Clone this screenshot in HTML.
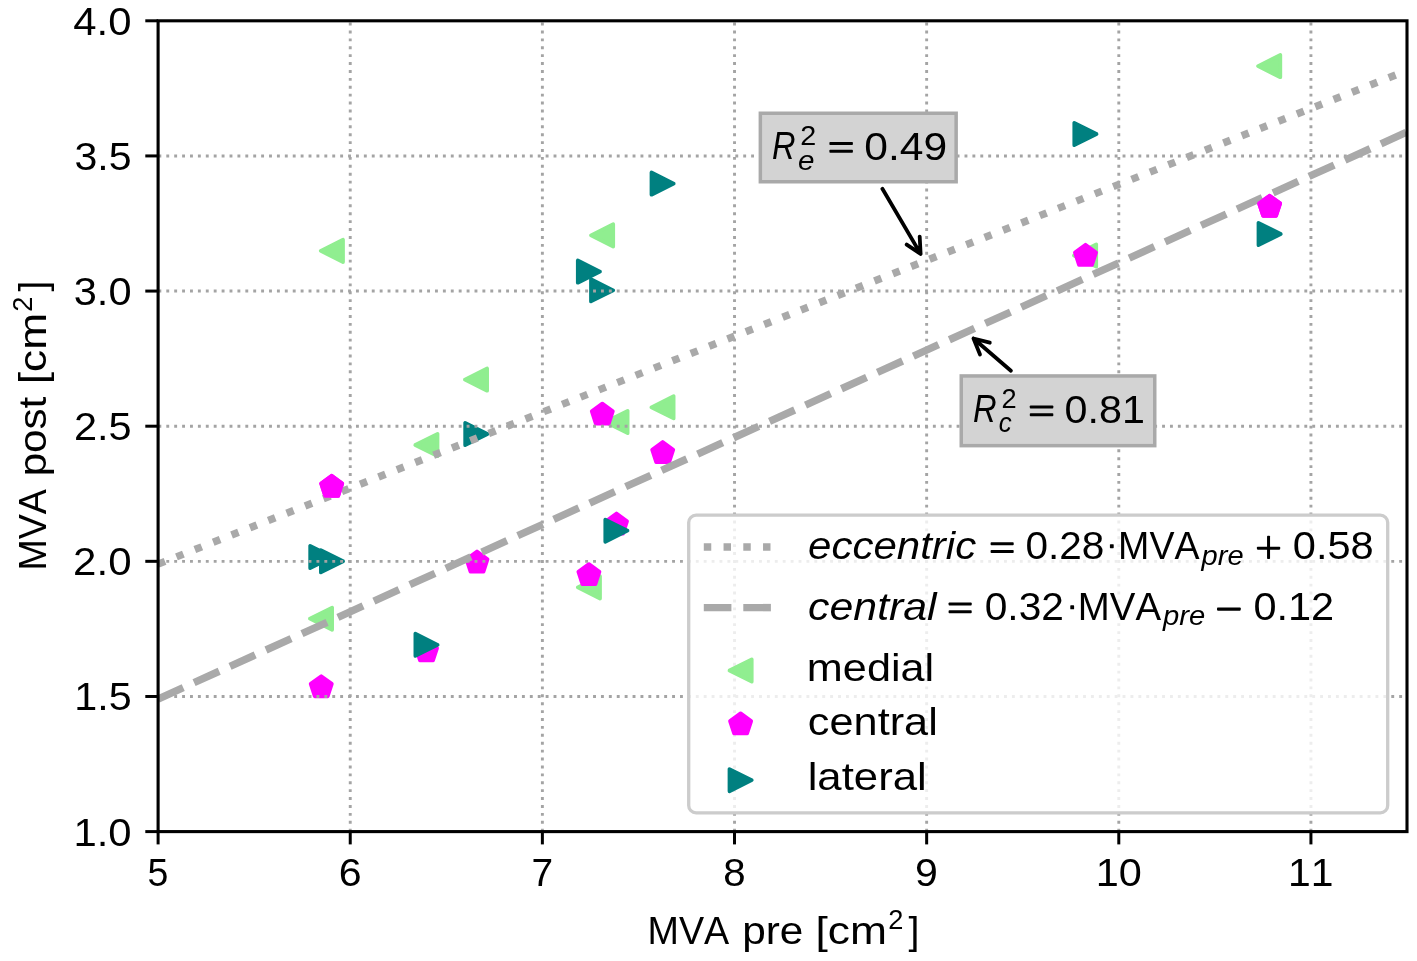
<!DOCTYPE html><html><head><meta charset="utf-8"><style>html,body{margin:0;padding:0;background:#fff;overflow:hidden}body{width:1417px;height:961px;position:relative}</style></head><body>
<svg width="1417" height="961" viewBox="0 0 1417 961" style="position:absolute;left:0;top:0;font-family:'Liberation Sans',sans-serif;font-kerning:none;will-change:transform">
<rect width="1417" height="961" fill="#fff"/>
<clipPath id="ax"><rect x="158.1" y="20.8" width="1248.9" height="810.8"/></clipPath>
<g clip-path="url(#ax)">
<path d="M320.77 250.9L343.03 239.77L343.03 262.03Z" fill="#90ee90" stroke="#90ee90" stroke-width="3.71" stroke-linejoin="round"/>
<path d="M309.87 618.7L332.13 607.57L332.13 629.83Z" fill="#90ee90" stroke="#90ee90" stroke-width="3.71" stroke-linejoin="round"/>
<path d="M415.27 445L437.53 433.87L437.53 456.13Z" fill="#90ee90" stroke="#90ee90" stroke-width="3.71" stroke-linejoin="round"/>
<path d="M464.87 379.6L487.13 368.47L487.13 390.73Z" fill="#90ee90" stroke="#90ee90" stroke-width="3.71" stroke-linejoin="round"/>
<path d="M590.97 235.4L613.23 224.27L613.23 246.53Z" fill="#90ee90" stroke="#90ee90" stroke-width="3.71" stroke-linejoin="round"/>
<path d="M605.37 422L627.63 410.87L627.63 433.13Z" fill="#90ee90" stroke="#90ee90" stroke-width="3.71" stroke-linejoin="round"/>
<path d="M651.37 407.3L673.63 396.17L673.63 418.43Z" fill="#90ee90" stroke="#90ee90" stroke-width="3.71" stroke-linejoin="round"/>
<path d="M577.77 587.4L600.03 576.27L600.03 598.53Z" fill="#90ee90" stroke="#90ee90" stroke-width="3.71" stroke-linejoin="round"/>
<path d="M1073.97 255.5L1096.23 244.37L1096.23 266.63Z" fill="#90ee90" stroke="#90ee90" stroke-width="3.71" stroke-linejoin="round"/>
<path d="M1258.07 66.1L1280.33 54.97L1280.33 77.23Z" fill="#90ee90" stroke="#90ee90" stroke-width="3.71" stroke-linejoin="round"/>
<path d="M331.7 475.77L342.29 483.46L338.24 495.9L325.16 495.9L321.11 483.46Z" fill="#ff00ff" stroke="#ff00ff" stroke-width="3.71" stroke-linejoin="round"/>
<path d="M321.25 676.17L331.84 683.86L327.79 696.3L314.71 696.3L310.66 683.86Z" fill="#ff00ff" stroke="#ff00ff" stroke-width="3.71" stroke-linejoin="round"/>
<path d="M426.5 640.37L437.09 648.06L433.04 660.5L419.96 660.5L415.91 648.06Z" fill="#ff00ff" stroke="#ff00ff" stroke-width="3.71" stroke-linejoin="round"/>
<path d="M477 551.47L487.59 559.16L483.54 571.6L470.46 571.6L466.41 559.16Z" fill="#ff00ff" stroke="#ff00ff" stroke-width="3.71" stroke-linejoin="round"/>
<path d="M602.3 403.57L612.89 411.26L608.84 423.7L595.76 423.7L591.71 411.26Z" fill="#ff00ff" stroke="#ff00ff" stroke-width="3.71" stroke-linejoin="round"/>
<path d="M588.9 564.07L599.49 571.76L595.44 584.2L582.36 584.2L578.31 571.76Z" fill="#ff00ff" stroke="#ff00ff" stroke-width="3.71" stroke-linejoin="round"/>
<path d="M616.5 513.47L627.09 521.16L623.04 533.6L609.96 533.6L605.91 521.16Z" fill="#ff00ff" stroke="#ff00ff" stroke-width="3.71" stroke-linejoin="round"/>
<path d="M662.7 441.97L673.29 449.66L669.24 462.1L656.16 462.1L652.11 449.66Z" fill="#ff00ff" stroke="#ff00ff" stroke-width="3.71" stroke-linejoin="round"/>
<path d="M1085.5 244.77L1096.09 252.46L1092.04 264.9L1078.96 264.9L1074.91 252.46Z" fill="#ff00ff" stroke="#ff00ff" stroke-width="3.71" stroke-linejoin="round"/>
<path d="M1269.6 195.67L1280.19 203.36L1276.14 215.8L1263.06 215.8L1259.01 203.36Z" fill="#ff00ff" stroke="#ff00ff" stroke-width="3.71" stroke-linejoin="round"/>
<path d="M332.43 557L310.17 545.87L310.17 568.13Z" fill="#008080" stroke="#008080" stroke-width="3.71" stroke-linejoin="round"/>
<path d="M343.13 561.25L320.87 550.12L320.87 572.38Z" fill="#008080" stroke="#008080" stroke-width="3.71" stroke-linejoin="round"/>
<path d="M437.63 644.8L415.37 633.67L415.37 655.93Z" fill="#008080" stroke="#008080" stroke-width="3.71" stroke-linejoin="round"/>
<path d="M487.43 434L465.17 422.87L465.17 445.13Z" fill="#008080" stroke="#008080" stroke-width="3.71" stroke-linejoin="round"/>
<path d="M600.03 271.6L577.77 260.47L577.77 282.73Z" fill="#008080" stroke="#008080" stroke-width="3.71" stroke-linejoin="round"/>
<path d="M613.23 290.3L590.97 279.17L590.97 301.43Z" fill="#008080" stroke="#008080" stroke-width="3.71" stroke-linejoin="round"/>
<path d="M673.73 183.6L651.47 172.47L651.47 194.73Z" fill="#008080" stroke="#008080" stroke-width="3.71" stroke-linejoin="round"/>
<path d="M627.53 530.7L605.27 519.57L605.27 541.83Z" fill="#008080" stroke="#008080" stroke-width="3.71" stroke-linejoin="round"/>
<path d="M1096.53 134L1074.27 122.87L1074.27 145.13Z" fill="#008080" stroke="#008080" stroke-width="3.71" stroke-linejoin="round"/>
<path d="M1280.73 234L1258.47 222.87L1258.47 245.13Z" fill="#008080" stroke="#008080" stroke-width="3.71" stroke-linejoin="round"/>
<line x1="350.24" y1="831.6" x2="350.24" y2="20.8" stroke="#a4a4a4" stroke-width="2.9" stroke-dasharray="2.9 5.003"/>
<line x1="542.38" y1="831.6" x2="542.38" y2="20.8" stroke="#a4a4a4" stroke-width="2.9" stroke-dasharray="2.9 5.003"/>
<line x1="734.52" y1="831.6" x2="734.52" y2="20.8" stroke="#a4a4a4" stroke-width="2.9" stroke-dasharray="2.9 5.003"/>
<line x1="926.65" y1="831.6" x2="926.65" y2="20.8" stroke="#a4a4a4" stroke-width="2.9" stroke-dasharray="2.9 5.003"/>
<line x1="1118.79" y1="831.6" x2="1118.79" y2="20.8" stroke="#a4a4a4" stroke-width="2.9" stroke-dasharray="2.9 5.003"/>
<line x1="1310.93" y1="831.6" x2="1310.93" y2="20.8" stroke="#a4a4a4" stroke-width="2.9" stroke-dasharray="2.9 5.003"/>
<line x1="158.1" y1="696.47" x2="1407.0" y2="696.47" stroke="#a4a4a4" stroke-width="2.9" stroke-dasharray="2.9 5.003" stroke-dashoffset="-0.3"/>
<line x1="158.1" y1="561.33" x2="1407.0" y2="561.33" stroke="#a4a4a4" stroke-width="2.9" stroke-dasharray="2.9 5.003" stroke-dashoffset="-0.3"/>
<line x1="158.1" y1="426.2" x2="1407.0" y2="426.2" stroke="#a4a4a4" stroke-width="2.9" stroke-dasharray="2.9 5.003" stroke-dashoffset="-0.3"/>
<line x1="158.1" y1="291.07" x2="1407.0" y2="291.07" stroke="#a4a4a4" stroke-width="2.9" stroke-dasharray="2.9 5.003" stroke-dashoffset="-0.3"/>
<line x1="158.1" y1="155.93" x2="1407.0" y2="155.93" stroke="#a4a4a4" stroke-width="2.9" stroke-dasharray="2.9 5.003" stroke-dashoffset="-0.3"/>
<line x1="158.1" y1="564.1" x2="1407.0" y2="70.5" stroke="#a9a9a9" stroke-width="7.45" stroke-dasharray="7.45 12.3"/>
<line x1="158.1" y1="699" x2="1407.0" y2="132" stroke="#a9a9a9" stroke-width="7.45" stroke-dasharray="27.6 11.9"/>
<path d="M331.7 475.77L342.29 483.46L338.24 495.9L325.16 495.9L321.11 483.46Z" fill="#ff00ff" stroke="#ff00ff" stroke-width="3.71" stroke-linejoin="round"/>
<path d="M1269.6 195.67L1280.19 203.36L1276.14 215.8L1263.06 215.8L1259.01 203.36Z" fill="#ff00ff" stroke="#ff00ff" stroke-width="3.71" stroke-linejoin="round"/>
</g>
<rect x="158.1" y="20.8" width="1248.9" height="810.8" fill="none" stroke="#000" stroke-width="3.1"/>
<line x1="158.1" y1="831.6" x2="158.1" y2="844.4" stroke="#000" stroke-width="3"/>
<text transform="translate(147.51 885.8) scale(0.9495 1)" font-size="39.5" fill="#000">5</text>
<line x1="350.24" y1="831.6" x2="350.24" y2="844.4" stroke="#000" stroke-width="3"/>
<text transform="translate(338.79 885.8) scale(1.0413 1)" font-size="39.5" fill="#000">6</text>
<line x1="542.38" y1="831.6" x2="542.38" y2="844.4" stroke="#000" stroke-width="3"/>
<text transform="translate(531.48 885.8) scale(0.9842 1)" font-size="39.5" fill="#000">7</text>
<line x1="734.52" y1="831.6" x2="734.52" y2="844.4" stroke="#000" stroke-width="3"/>
<text transform="translate(723.34 885.8) scale(1.0170 1)" font-size="39.5" fill="#000">8</text>
<line x1="926.65" y1="831.6" x2="926.65" y2="844.4" stroke="#000" stroke-width="3"/>
<text transform="translate(915.11 885.8) scale(1.0392 1)" font-size="39.5" fill="#000">9</text>
<line x1="1118.79" y1="831.6" x2="1118.79" y2="844.4" stroke="#000" stroke-width="3"/>
<text transform="translate(1095.79 885.8) scale(1.0493 1)" font-size="39.5" fill="#000">10</text>
<line x1="1310.93" y1="831.6" x2="1310.93" y2="844.4" stroke="#000" stroke-width="3"/>
<text transform="translate(1287.97 885.8) scale(1.0347 1)" font-size="39.5" fill="#000">11</text>
<line x1="145.3" y1="831.6" x2="158.1" y2="831.6" stroke="#000" stroke-width="3"/>
<text transform="translate(73.4 845.6) scale(1.0586 1)" font-size="39.5" fill="#000">1.0</text>
<line x1="145.3" y1="696.47" x2="158.1" y2="696.47" stroke="#000" stroke-width="3"/>
<text transform="translate(74.24 710.47) scale(1.0453 1)" font-size="39.5" fill="#000">1.5</text>
<line x1="145.3" y1="561.33" x2="158.1" y2="561.33" stroke="#000" stroke-width="3"/>
<text transform="translate(73.09 575.33) scale(1.0644 1)" font-size="39.5" fill="#000">2.0</text>
<line x1="145.3" y1="426.2" x2="158.1" y2="426.2" stroke="#000" stroke-width="3"/>
<text transform="translate(73.91 440.2) scale(1.0514 1)" font-size="39.5" fill="#000">2.5</text>
<line x1="145.3" y1="291.07" x2="158.1" y2="291.07" stroke="#000" stroke-width="3"/>
<text transform="translate(73.74 305.07) scale(1.0524 1)" font-size="39.5" fill="#000">3.0</text>
<line x1="145.3" y1="155.93" x2="158.1" y2="155.93" stroke="#000" stroke-width="3"/>
<text transform="translate(74.55 169.93) scale(1.0395 1)" font-size="39.5" fill="#000">3.5</text>
<line x1="145.3" y1="20.8" x2="158.1" y2="20.8" stroke="#000" stroke-width="3"/>
<text transform="translate(73.33 34.8) scale(1.0600 1)" font-size="39.5" fill="#000">4.0</text>
<text transform="translate(647.5 943.6) scale(0.9554 1)" font-size="39.5" fill="#000">MVA</text>
<text transform="translate(742.14 943.6) scale(1.0718 1)" font-size="39.5" fill="#000">pre</text>
<text transform="translate(815.45 943.6) scale(1.1250 1)" font-size="39.5" fill="#000">[cm</text>
<text transform="translate(888.13 929.3) scale(0.9844 1)" font-size="27.65" fill="#000">2</text>
<text transform="translate(908.59 943.6) scale(0.9936 1)" font-size="39.5" fill="#000">]</text>
<g transform="translate(46.1 567.5) rotate(-90)">
<text transform="translate(-3.08 0) scale(0.9514 1)" font-size="39.5" fill="#000">MVA</text>
<text transform="translate(91.17 0) scale(1.0651 1)" font-size="39.5" fill="#000">post</text>
<text transform="translate(183.23 0) scale(1.1203 1)" font-size="39.5" fill="#000">[cm</text>
<text transform="translate(255.63 -14.3) scale(0.9844 1)" font-size="27.65" fill="#000">2</text>
<text transform="translate(276.09 0) scale(0.9936 1)" font-size="39.5" fill="#000">]</text>
</g>
<rect x="688.7" y="515.2" width="699" height="297.6" rx="7.4" ry="7.4" fill="#fff" fill-opacity="0.8" stroke="#cccccc" stroke-width="3.3"/>
<line x1="703.8" y1="547" x2="779.2" y2="547" stroke="#a9a9a9" stroke-width="7.45" stroke-dasharray="7.45 12.3"/>
<line x1="703.8" y1="607.6" x2="779.2" y2="607.6" stroke="#a9a9a9" stroke-width="7.45" stroke-dasharray="27.6 11.9"/>
<path d="M729.47 670.5L751.73 659.37L751.73 681.63Z" fill="#90ee90" stroke="#90ee90" stroke-width="3.71" stroke-linejoin="round"/>
<path d="M740.6 713.37L751.19 721.06L747.14 733.5L734.06 733.5L730.01 721.06Z" fill="#ff00ff" stroke="#ff00ff" stroke-width="3.71" stroke-linejoin="round"/>
<path d="M751.73 780.2L729.47 769.07L729.47 791.33Z" fill="#008080" stroke="#008080" stroke-width="3.71" stroke-linejoin="round"/>
<text transform="translate(808.08 559.2) scale(1.0635 1)" font-size="39.5" font-style="italic" fill="#000">eccentric</text>
<rect x="990.6" y="542.25" width="23.1" height="3" rx="0.8"/>
<rect x="990.6" y="550" width="23.1" height="3" rx="0.8"/>
<text transform="translate(1025.52 559.2) scale(1.0256 1)" font-size="39.5" fill="#000">0.28</text>
<rect x="1109.9" y="544.2" width="3.8" height="4" rx="0.6"/>
<text transform="translate(1118.12 559.2) scale(0.9516 1)" font-size="39.5" fill="#000">MVA</text>
<text transform="translate(1201.62 564.8) scale(1.0524 1)" font-size="27.65" font-style="italic" fill="#000">pre</text>
<rect x="1256.9" y="546.65" width="23.3" height="3" rx="0.8"/>
<rect x="1267.05" y="535.8" width="3" height="23.3" rx="0.8"/>
<text transform="translate(1292.78 559.2) scale(1.0527 1)" font-size="39.5" fill="#000">0.58</text>
<text transform="translate(808.1 619.5) scale(1.0842 1)" font-size="39.5" font-style="italic" fill="#000">central</text>
<rect x="948.6" y="602.55" width="23.1" height="3" rx="0.8"/>
<rect x="948.6" y="610.3" width="23.1" height="3" rx="0.8"/>
<text transform="translate(984.71 619.5) scale(1.0307 1)" font-size="39.5" fill="#000">0.32</text>
<rect x="1070.3" y="605.3" width="3.8" height="4" rx="0.6"/>
<text transform="translate(1077.85 619.5) scale(0.9723 1)" font-size="39.5" fill="#000">MVA</text>
<text transform="translate(1163.03 625.1) scale(1.0574 1)" font-size="27.65" font-style="italic" fill="#000">pre</text>
<rect x="1217" y="607.45" width="23.75" height="3.2" rx="0.8"/>
<text transform="translate(1253.38 619.5) scale(1.0498 1)" font-size="39.5" fill="#000">0.12</text>
<text transform="translate(806.83 680.9) scale(1.0946 1)" font-size="39.5" fill="#000">medial</text>
<text transform="translate(807.86 735.3) scale(1.0960 1)" font-size="39.5" fill="#000">central</text>
<text transform="translate(807.65 790.2) scale(1.1077 1)" font-size="39.5" fill="#000">lateral</text>
<rect x="760.35" y="113.25" width="195.8" height="68.5" fill="#d3d3d3" stroke="#a9a9a9" stroke-width="3.5"/>
<text transform="translate(772.1 158.9) scale(0.8239 1)" font-size="39.5" font-style="italic" fill="#000">R</text>
<text transform="translate(800.25 144.9) scale(1.0400 1)" font-size="27.65" fill="#000">2</text>
<text transform="translate(797.9 169.5) scale(1.0730 1)" font-size="27.65" font-style="italic" fill="#000">e</text>
<rect x="829.4" y="142.05" width="23.5" height="3" rx="0.8"/>
<rect x="829.4" y="149.8" width="23.5" height="3" rx="0.8"/>
<text transform="translate(864.34 159.6) scale(1.0781 1)" font-size="39.5" fill="#000">0.49</text>
<path d="M882.4 188.8L920.6 253.9M906.7 244.6L920.6 253.9L919.7 236.6" fill="none" stroke="#000" stroke-width="3.8" stroke-linecap="round" stroke-linejoin="round"/>
<rect x="961.25" y="375.95" width="193.5" height="69.7" fill="#d3d3d3" stroke="#a9a9a9" stroke-width="3.5"/>
<text transform="translate(973.09 422.4) scale(0.8277 1)" font-size="39.5" font-style="italic" fill="#000">R</text>
<text transform="translate(1001.53 407.8) scale(0.9844 1)" font-size="27.65" fill="#000">2</text>
<text transform="translate(998.75 431.9) scale(0.9358 1)" font-size="27.65" font-style="italic" fill="#000">c</text>
<rect x="1029.8" y="405.45" width="23.5" height="3" rx="0.8"/>
<rect x="1029.8" y="413.2" width="23.5" height="3" rx="0.8"/>
<text transform="translate(1064.59 422.6) scale(1.0435 1)" font-size="39.5" fill="#000">0.81</text>
<path d="M1010.9 370.8L973.5 338.5M989.8 342.7L973.5 338.5L980 354.5" fill="none" stroke="#000" stroke-width="3.8" stroke-linecap="round" stroke-linejoin="round"/>
</svg>
</body></html>
